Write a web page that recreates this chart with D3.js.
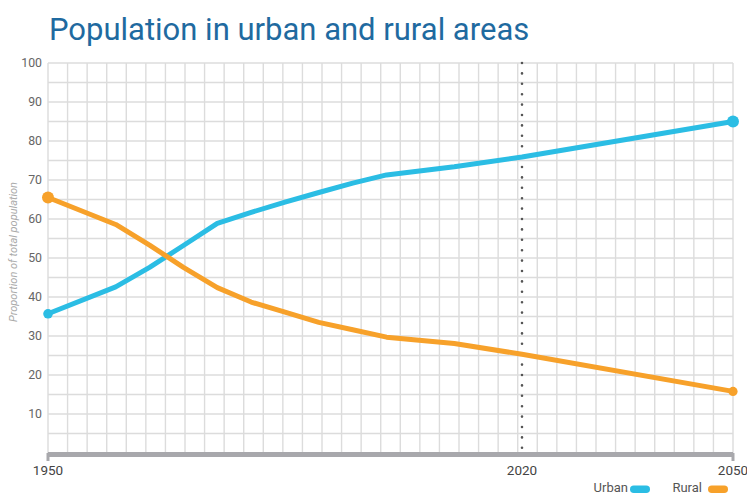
<!DOCTYPE html>
<html>
<head>
<meta charset="utf-8">
<script src="https://cdn.jsdelivr.net/npm/d3@7"></script>
<style>
  html, body { margin: 0; padding: 0; background: #fff; }
  svg { display: block; font-family: Roboto, "Noto Sans", sans-serif; }
</style>
</head>
<body>
<svg id="chart" width="747" height="495"></svg>
<script>
// ---- data ----
const years      = [1950, 1960, 1965, 1970, 1975, 1980, 1985, 1990, 1995, 2000, 2010, 2020, 2050];
const urbanShare = [35.7, 42.6, 47.6, 53.2, 58.9, 61.7, 64.3, 66.8, 69.2, 71.3, 73.4, 75.9, 85.0];
const ruralShare = [65.5, 58.6, 53.3, 47.6, 42.4, 38.7, 36.1, 33.5, 31.6, 29.7, 28.1, 25.3, 15.8];
const seriesNames = ["Urban", "Rural"];
const yTicks = [10, 20, 30, 40, 50, 60, 70, 80, 90, 100];
const xTicks = [1950, 2020, 2050];
const markerYear = 2020;
const titleText = "Population in urban and rural areas";
const yTitle = "Proportion of total population";

(function () {
// ---- layout ----
const svg = d3.select("#chart");
const pL = 48, pR = 733, pT = 63, pB = 453;
const colors = { Urban: "#2bbde4", Rural: "#f7a12a" };

const x = d3.scaleLinear().domain([1950, 2020, 2050]).range([pL, 522, pR]);
const y = d3.scaleLinear().domain([0, 100]).range([pB, pT]);

// grid (square cells)
const cell = 19.5;
const g = svg.append("g");
const nCols = Math.round((pR - pL) / cell);
const colStep = (pR - pL) / nCols;
g.selectAll("line.v").data(d3.range(nCols + 1)).enter().append("line")
  .attr("x1", i => pL + i * colStep).attr("x2", i => pL + i * colStep)
  .attr("y1", pT).attr("y2", pB)
  .attr("stroke", "#dcdcdc").attr("stroke-width", 1.4);
g.selectAll("line.h").data(d3.range(0, 100.01, 5)).enter().append("line")
  .attr("x1", pL).attr("x2", pR)
  .attr("y1", d => y(d)).attr("y2", d => y(d))
  .attr("stroke", "#dcdcdc").attr("stroke-width", 1.4);

// y axis labels
svg.append("g").selectAll("text").data(yTicks).enter().append("text")
  .attr("x", 42).attr("y", d => y(d)).attr("dy", "0.35em")
  .attr("text-anchor", "end").attr("font-size", 12.3).attr("fill", "#666")
  .text(d => d);

// y title
svg.append("text")
  .attr("transform", `translate(17, ${(pT + pB) / 2 - 6}) rotate(-90)`)
  .attr("text-anchor", "middle").attr("font-size", 11).attr("font-style", "italic")
  .attr("fill", "#aaa").text(yTitle);

// marker dotted line
svg.append("line")
  .attr("x1", x(markerYear)).attr("x2", x(markerYear))
  .attr("y1", pT).attr("y2", pB - 4)
  .attr("stroke", "#555").attr("stroke-width", 2.6)
  .attr("stroke-linecap", "round").attr("stroke-dasharray", "0 10.4");

// x axis bar
svg.append("line").attr("x1", pL).attr("x2", pR).attr("y1", pB + 1.5).attr("y2", pB + 1.5)
  .attr("stroke", "#a8a8ac").attr("stroke-width", 5);
svg.append("g").selectAll("line").data([1950, 2050]).enter().append("line")
  .attr("x1", d => x(d)).attr("x2", d => x(d)).attr("y1", pB).attr("y2", pB + 8)
  .attr("stroke", "#a8a8ac").attr("stroke-width", 3);
svg.append("g").selectAll("text").data(xTicks).enter().append("text")
  .attr("x", d => x(d)).attr("y", 475).attr("text-anchor", "middle")
  .attr("font-size", 13.5).attr("fill", "#444").text(d => d);

// lines
const series = [
  { name: seriesNames[0], values: urbanShare },
  { name: seriesNames[1], values: ruralShare }
];
const line = d3.line().x((d, i) => x(years[i])).y(d => y(d));
svg.append("g").selectAll("path").data(series).enter().append("path")
  .attr("d", s => line(s.values))
  .attr("fill", "none").attr("stroke", s => colors[s.name])
  .attr("stroke-width", 5).attr("stroke-linejoin", "round");

// end points
const last = years.length - 1;
const ends = [
  { name: "Urban", yr: years[0], v: urbanShare[0], r: 4.8 },
  { name: "Urban", yr: years[last], v: urbanShare[last], r: 6 },
  { name: "Rural", yr: years[0], v: ruralShare[0], r: 6 },
  { name: "Rural", yr: years[last], v: ruralShare[last], r: 4.6 }
];
svg.append("g").selectAll("circle").data(ends).enter().append("circle")
  .attr("cx", d => x(d.yr)).attr("cy", d => y(d.v)).attr("r", d => d.r)
  .attr("fill", d => colors[d.name]);

// title
svg.append("text").attr("x", 49).attr("y", 40)
  .attr("font-size", 31).attr("fill", "#1f6aa0").text(titleText);

// legend
const legend = [
  { name: "Urban", tx: 628, px: 630 },
  { name: "Rural", tx: 702, px: 708 }
];
const lg = svg.append("g").selectAll("g").data(legend).enter().append("g");
lg.append("text").attr("x", d => d.tx).attr("y", 491.5)
  .attr("text-anchor", "end").attr("font-size", 13).attr("fill", "#555").text(d => d.name);
lg.append("rect").attr("x", d => d.px).attr("y", 485.5).attr("width", 20).attr("height", 7.5)
  .attr("rx", 3.75).attr("fill", d => colors[d.name]);
})();
</script>
</body>
</html>
